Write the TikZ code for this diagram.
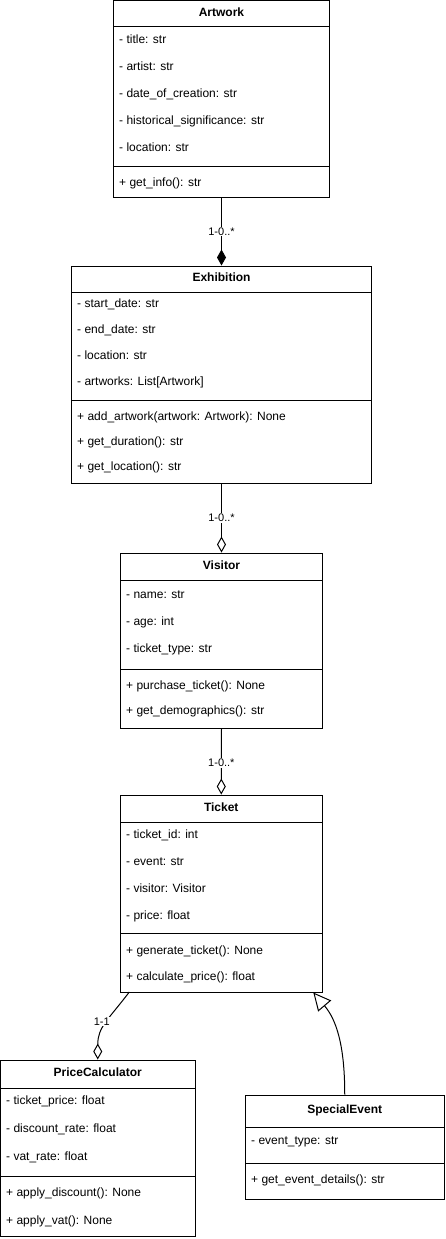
\documentclass[tikz,border=0pt]{standalone}
\usepackage{fontspec}
\setmainfont{Liberation Sans}
\usetikzlibrary{arrows.meta,fit}
\begin{document}
\begin{tikzpicture}[x=1pt,y=-1pt,
  classbox/.style={draw=black,line width=1pt,inner sep=0pt,fill=white},
  hdr/.style={font=\fontsize{12}{14}\selectfont\bfseries,inner sep=0pt,anchor=mid},
  mem/.style={font=\fontsize{12}{14}\selectfont,inner sep=0pt,anchor=mid west},
  rule/.style={draw=black,line width=1pt},
  conn/.style={draw=black,line width=1pt},
  mult/.style={font=\fontsize{11}{13}\selectfont,fill=white,inner sep=1pt},
  comp/.style={conn,-{Diamond[length=16pt,width=9pt,fill=black]}},
  aggr/.style={conn,-{Diamond[open,length=16pt,width=9pt]}},
  gen/.style={conn,-{Triangle[open,length=17.7pt,width=17pt]}}
]
\useasboundingbox (0,0) rectangle (445,1239);

% Artwork
\node[classbox,fit={(113.5,1) (329.5,197)}] (artwork) {};
\draw[rule] (113.5,27) -- (329.5,27);
\draw[rule] (113.5,166) -- (329.5,166);
\node[hdr] (artworkT) at (221.5,14) {Artwork};
\node[mem] (a1) at (119,41) {- title: str};
\node[mem] (a2) at (119,68) {- artist: str};
\node[mem] (a3) at (119,95) {- date\_of\_creation: str};
\node[mem] (a4) at (119,122) {- historical\_significance: str};
\node[mem] (a5) at (119,149) {- location: str};
\node[mem] (a6) at (119,184) {+ get\_info(): str};

% Exhibition
\node[classbox,fit={(71.5,266) (371.5,483)}] (exhibition) {};
\draw[rule] (71.5,292) -- (371.5,292);
\draw[rule] (71.5,400) -- (371.5,400);
\node[hdr] (exhibitionT) at (221.5,279) {Exhibition};
\node[mem] (e1) at (77,305) {- start\_date: str};
\node[mem] (e2) at (77,331) {- end\_date: str};
\node[mem] (e3) at (77,357) {- location: str};
\node[mem] (e4) at (77,383) {- artworks: List[Artwork]};
\node[mem] (e5) at (77,418) {+ add\_artwork(artwork: Artwork): None};
\node[mem] (e6) at (77,443) {+ get\_duration(): str};
\node[mem] (e7) at (77,468) {+ get\_location(): str};

% Visitor
\node[classbox,fit={(120.5,553) (322.5,728)}] (visitor) {};
\draw[rule] (120.5,580) -- (322.5,580);
\draw[rule] (120.5,669) -- (322.5,669);
\node[hdr] (visitorT) at (221.5,566.5) {Visitor};
\node[mem] (v1) at (126,596) {- name: str};
\node[mem] (v2) at (126,623) {- age: int};
\node[mem] (v3) at (126,650) {- ticket\_type: str};
\node[mem] (v4) at (126,687) {+ purchase\_ticket(): None};
\node[mem] (v5) at (126,712) {+ get\_demographics(): str};

% Ticket
\node[classbox,fit={(120.5,795) (322,992)}] (ticket) {};
\draw[rule] (120.5,822) -- (322,822);
\draw[rule] (120.5,933) -- (322,933);
\node[hdr] (ticketT) at (221.25,808.5) {Ticket};
\node[mem] (t1) at (126,836) {- ticket\_id: int};
\node[mem] (t2) at (126,863) {- event: str};
\node[mem] (t3) at (126,890) {- visitor: Visitor};
\node[mem] (t4) at (126,917) {- price: float};
\node[mem] (t5) at (126,952) {+ generate\_ticket(): None};
\node[mem] (t6) at (126,978) {+ calculate\_price(): float};

% PriceCalculator
\node[classbox,fit={(0.5,1060) (195,1236)}] (pricecalc) {};
\draw[rule] (0.5,1088) -- (195,1088);
\draw[rule] (0.5,1176) -- (195,1176);
\node[hdr] (pricecalcT) at (97.75,1074) {PriceCalculator};
\node[mem] (p1) at (6,1102) {- ticket\_price: float};
\node[mem] (p2) at (6,1130) {- discount\_rate: float};
\node[mem] (p3) at (6,1158) {- vat\_rate: float};
\node[mem] (p4) at (6,1194) {+ apply\_discount(): None};
\node[mem] (p5) at (6,1222) {+ apply\_vat(): None};

% SpecialEvent
\node[classbox,fit={(245.5,1095) (444,1199)}] (special) {};
\draw[rule] (245.5,1127) -- (444,1127);
\draw[rule] (245.5,1163) -- (444,1163);
\node[hdr] (specialT) at (344.75,1111) {SpecialEvent};
\node[mem] (s1) at (251,1142) {- event\_type: str};
\node[mem] (s2) at (251,1181) {+ get\_event\_details(): str};

% connectors
\draw[comp] (artwork.south) -- node[mult] (m1) {1-0..*} (exhibition.north);
\draw[aggr] (exhibition.south) -- node[mult] (m2) {1-0..*} (visitor.north);
\draw[aggr] (visitor.south) -- node[mult,pos=0.52] (m3) {1-0..*} (ticket.north);

\coordinate (tpc) at (129.3,992);
\draw[aggr] (tpc) .. controls (108,1020) and (97.75,1027) .. (pricecalc.north);
\node[mult] (m4) at (101.7,1021.7) {1-1};

\coordinate (gentip) at (313.3,992.5);
\draw[gen] (special.north) .. controls (344.75,1045) and (336.3,1019.7) .. (gentip);
\end{tikzpicture}
\end{document}
